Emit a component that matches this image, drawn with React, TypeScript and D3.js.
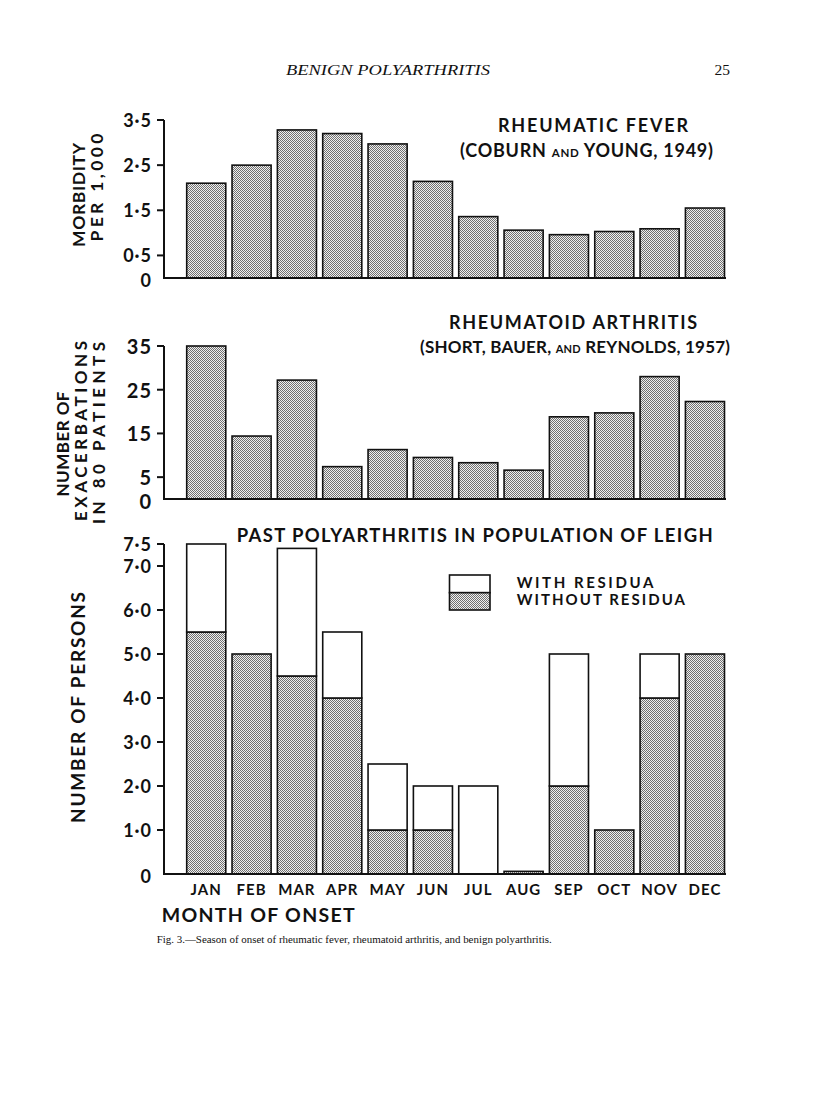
import React from "react";
import * as d3 from "d3";

const months = ["JAN", "FEB", "MAR", "APR", "MAY", "JUN", "JUL", "AUG", "SEP", "OCT", "NOV", "DEC"];
const rheumaticFever = [2.1, 2.5, 3.28, 3.2, 2.97, 2.14, 1.36, 1.06, 0.96, 1.03, 1.09, 1.55];
const rheumatoidArthritis = [35, 14.4, 27.2, 7.4, 11.3, 9.5, 8.3, 6.6, 18.8, 19.7, 28, 22.3];
const withoutResidua = [5.5, 5.0, 4.5, 4.0, 1.0, 1.0, 0, 0.06, 2.0, 1.0, 4.0, 5.0];
const withResidua = [2.0, 0, 2.9, 1.5, 1.5, 1.0, 2.0, 0, 3.0, 0, 1.0, 0];

const rfTicks = [0, 0.5, 1.5, 2.5, 3.5];
const rfTickLabels = ["0", "0·5", "1·5", "2·5", "3·5"];
const raTicks = [0, 5, 15, 25, 35];
const raTickLabels = ["0", "5", "15", "25", "35"];
const ppTicks = [0, 1, 2, 3, 4, 5, 6, 7, 7.5];
const ppTickLabels = ["0", "1·0", "2·0", "3·0", "4·0", "5·0", "6·0", "7·0", "7·5"];

const FONT = "Lato, 'Open Sans', sans-serif";

const x = d3.scaleBand<string>().domain(months).range([186.7, 724.5]).paddingInner(0.138).paddingOuter(0);

const yRF = d3.scaleLinear().domain([0, 3.5]).range([278, 120]);
const yRA = d3.scaleLinear().domain([0, 35]).range([499, 346]);
const yPP = d3.scaleLinear().domain([0, 7.5]).range([874, 544]);

const AXIS_X = 164;
const AXIS_END = 726;

function YAxis({ y, ticks, labels, fontSize }: { y: d3.ScaleLinear<number, number>; ticks: number[]; labels: string[]; fontSize: number }) {
  const [y0, y1] = y.range();
  return (
    <g>
      <line x1={AXIS_X} x2={AXIS_X} y1={y0 + 1} y2={y1} stroke="#111" strokeWidth={2} />
      <line x1={AXIS_X - 1} x2={AXIS_END} y1={y0} y2={y0} stroke="#111" strokeWidth={2} />
      {ticks.map((t, i) => (
        <g key={i}>
          {t !== 0 && <line x1={AXIS_X - 7} x2={AXIS_X} y1={y(t)} y2={y(t)} stroke="#111" strokeWidth={2} />}
          <text
            x={152}
            y={y(t) + (t === 0 ? 2 : 0)}
            textAnchor="end"
            dominantBaseline="central"
            fontFamily={FONT}
            fontWeight={700}
            fontSize={fontSize}
            letterSpacing={1}
            fill="#111"
          >
            {labels[i]}
          </text>
        </g>
      ))}
    </g>
  );
}

function SimpleBars({ values, y }: { values: number[]; y: d3.ScaleLinear<number, number> }) {
  return (
    <g>
      {months.map((m, i) => (
        <rect
          key={m}
          x={x(m)}
          width={x.bandwidth()}
          y={y(values[i])}
          height={y(0) - y(values[i])}
          fill="url(#stipple)"
          stroke="#111"
          strokeWidth={1.6}
        />
      ))}
    </g>
  );
}

function RotLabel({ x0, cy, len, text, size }: { x0: number; cy: number; len: number; text: string; size: number }) {
  return (
    <text
      transform={`translate(${x0},${cy}) rotate(-90)`}
      textAnchor="middle"
      fontFamily={FONT}
      fontWeight={700}
      fontSize={size}
      textLength={len}
      lengthAdjust="spacing"
      fill="#111"
    >
      {text}
    </text>
  );
}

export default function App() {
  const stackData = months.map((m, i) => ({ month: m, without: withoutResidua[i], with: withResidua[i] }));
  const stacked = d3.stack<any>().keys(["without", "with"])(stackData);

  return (
    <svg width={816} height={1112} style={{ position: "absolute", left: 0, top: 0, background: "#fff" }}>
      <defs>
        <pattern id="stipple" width={2} height={2} patternUnits="userSpaceOnUse">
          <rect width={2} height={2} fill="#f0f0f0" />
          <rect width={1} height={1} fill="#707070" />
          <rect x={1} y={1} width={1} height={1} fill="#707070" />
        </pattern>
      </defs>
      <rect width={816} height={1112} fill="#fff" />

      {/* Header */}
      <text x={286} y={75} fontFamily="'Liberation Serif', 'DejaVu Serif', serif" fontStyle="italic" fontSize={15} textLength={204} lengthAdjust="spacingAndGlyphs" fill="#111">
        BENIGN POLYARTHRITIS
      </text>
      <text x={730} y={75} textAnchor="end" fontFamily="'Liberation Serif', 'DejaVu Serif', serif" fontSize={15.5} fill="#111">
        25
      </text>

      {/* Panel 1: Rheumatic fever */}
      <SimpleBars values={rheumaticFever} y={yRF} />
      <YAxis y={yRF} ticks={rfTicks} labels={rfTickLabels} fontSize={18} />
      <RotLabel x0={85} cy={195} len={104} text="MORBIDITY" size={17.5} />
      <RotLabel x0={103} cy={187.5} len={108} text="PER 1,000" size={17.5} />
      <text x={498} y={131.7} fontFamily={FONT} fontWeight={700} fontSize={18} textLength={190} lengthAdjust="spacing" fill="#111">
        RHEUMATIC FEVER
      </text>
      <text x={460} y={156.7} fontFamily={FONT} fontWeight={700} fontSize={18} textLength={253} lengthAdjust="spacing" fill="#111">
        (COBURN <tspan fontSize={11.5}>AND</tspan> YOUNG, 1949)
      </text>

      {/* Panel 2: Rheumatoid arthritis */}
      <SimpleBars values={rheumatoidArthritis} y={yRA} />
      <YAxis y={yRA} ticks={raTicks} labels={raTickLabels} fontSize={20} />
      <RotLabel x0={69} cy={444} len={105} text="NUMBER OF" size={17} />
      <RotLabel x0={87} cy={431} len={180} text="EXACERBATIONS" size={17} />
      <RotLabel x0={105} cy={433} len={182} text="IN 80 PATIENTS" size={17} />
      <text x={449} y={329} fontFamily={FONT} fontWeight={700} fontSize={18} textLength={248} lengthAdjust="spacing" fill="#111">
        RHEUMATOID ARTHRITIS
      </text>
      <text x={420} y={353} fontFamily={FONT} fontWeight={700} fontSize={17} textLength={310} lengthAdjust="spacing" fill="#111">
        (SHORT, BAUER, <tspan fontSize={11}>AND</tspan> REYNOLDS, 1957)
      </text>

      {/* Panel 3: Past polyarthritis */}
      <g>
        {stacked.map((series, si) =>
          series.map((d, i) => {
            const h = yPP(d[0]) - yPP(d[1]);
            if (h <= 0) return null;
            return (
              <rect
                key={`${si}-${i}`}
                x={x(months[i])}
                width={x.bandwidth()}
                y={yPP(d[1])}
                height={h}
                fill={si === 0 ? "url(#stipple)" : "#fff"}
                stroke="#111"
                strokeWidth={1.6}
              />
            );
          })
        )}
      </g>
      <YAxis y={yPP} ticks={ppTicks} labels={ppTickLabels} fontSize={18} />
      <RotLabel x0={85} cy={707.5} len={231} text="NUMBER OF PERSONS" size={19} />
      <text x={236.7} y={541.7} fontFamily={FONT} fontWeight={700} fontSize={18.5} textLength={476} lengthAdjust="spacing" fill="#111">
        PAST POLYARTHRITIS IN POPULATION OF LEIGH
      </text>

      {/* Legend */}
      <rect x={449.5} y={575} width={40.5} height={17.7} fill="#fff" stroke="#111" strokeWidth={1.6} />
      <rect x={449.5} y={592.7} width={40.5} height={17.3} fill="url(#stipple)" stroke="#111" strokeWidth={1.6} />
      <text x={516.7} y={588.3} fontFamily={FONT} fontWeight={700} fontSize={15} textLength={136.6} lengthAdjust="spacing" fill="#111">
        WITH RESIDUA
      </text>
      <text x={516.7} y={605} fontFamily={FONT} fontWeight={700} fontSize={15} textLength={168.3} lengthAdjust="spacing" fill="#111">
        WITHOUT RESIDUA
      </text>

      {/* X axis labels */}
      {months.map((m) => (
        <text
          key={m}
          x={(x(m) as number) + x.bandwidth() / 2}
          y={895}
          textAnchor="middle"
          fontFamily={FONT}
          fontWeight={700}
          fontSize={15}
          letterSpacing={1}
          fill="#111"
        >
          {m}
        </text>
      ))}
      <text x={161.7} y={921.7} fontFamily={FONT} fontWeight={700} fontSize={19.5} textLength={193} lengthAdjust="spacing" fill="#111">
        MONTH OF ONSET
      </text>

      {/* Caption */}
      <text x={156.7} y={943} fontFamily="'Liberation Serif', 'DejaVu Serif', serif" fontSize={10.5} textLength={395} lengthAdjust="spacingAndGlyphs" fill="#111">
        Fig. 3.—Season of onset of rheumatic fever, rheumatoid arthritis, and benign polyarthritis.
      </text>
    </svg>
  );
}
